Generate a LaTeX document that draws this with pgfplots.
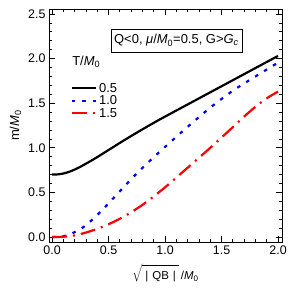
\documentclass[border=0pt]{standalone}
\usepackage{pgfplots}
\pgfplotsset{compat=1.18}
\usepackage{fontspec}
\setmainfont{Liberation Sans}
\begin{document}
\begin{tikzpicture}[font=\fontsize{13}{15}\selectfont]
\begin{axis}[
  scale only axis,
  width=233bp, height=233bp,
  xmin=-0.027, xmax=2.035,
  ymin=-0.056, ymax=2.556,
  xtick={0,0.5,1,1.5,2},
  ytick={0,0.5,1,1.5,2,2.5},
  minor tick num=4,
  tick align=inside,
  major tick length=6bp,
  minor tick length=3bp,
  axis line style={line width=0.8bp},
  every tick/.style={black, line width=0.7bp},
  tick label style={font=\fontsize{12.5}{15}\selectfont},
  /pgf/number format/.cd, fixed, fixed zerofill, precision=1, assume math mode=true,
  /pgfplots/.cd,
  xlabel={$\sqrt{\rule{0pt}{14bp}\mbox{\hspace{3bp}|\hspace{4bp}QB\hspace{4bp}|\hspace{3bp}}}$\,/\textit{M}\textsubscript{0}},
  xlabel style={font=\fontsize{11.5}{14}\selectfont, yshift=-3bp},
  ylabel={m/\textit{M}\textsubscript{0}},
  legend style={at={(axis description cs:0.08,0.70)}, anchor=north west, draw=none, fill=none,
    font=\fontsize{13}{15}\selectfont, row sep=-2pt},
  legend cell align=left,
  legend image code/.code={\draw[#1] (0cm,0cm) -- (0.85cm,0cm);},
]
\addplot[black, line width=2.2bp, smooth] coordinates {
(0,0.70) (0.05,0.702) (0.1,0.712) (0.15,0.73) (0.2,0.756) (0.25,0.787) (0.3,0.822) (0.35,0.858) (0.4,0.896) (0.5,0.975) (0.6,1.055) (0.7,1.132) (0.8,1.207) (0.9,1.28) (1.0,1.35) (1.25,1.52) (1.5,1.69) (1.75,1.86) (2.0,2.03)
};
\addlegendentry{0.5}
\addplot[blue, line width=2.2bp, dash pattern=on 3.5bp off 7bp, smooth] coordinates {
(0,0) (0.1,0.008) (0.15,0.025) (0.2,0.055) (0.25,0.09) (0.3,0.132) (0.4,0.247) (0.5,0.377) (0.6,0.513) (0.7,0.648) (0.8,0.775) (0.9,0.895) (1.0,1.01) (1.2,1.235) (1.4,1.45) (1.6,1.64) (1.8,1.80) (2.0,1.955)
};
\addlegendentry{1.0}
\addplot[red, line width=2.2bp, dash pattern=on 15bp off 6bp on 2bp off 6bp, smooth] coordinates {
(0,0) (0.1,0.003) (0.2,0.018) (0.3,0.05) (0.4,0.092) (0.5,0.143) (0.6,0.205) (0.7,0.278) (0.8,0.36) (0.9,0.455) (1.0,0.557) (1.1,0.667) (1.2,0.777) (1.3,0.888) (1.4,1.0) (1.5,1.115) (1.6,1.232) (1.7,1.35) (1.8,1.46) (1.9,1.555) (2.0,1.63)
};
\addlegendentry{1.5}
\node[anchor=west] at (axis description cs:0.085,0.773) {T/\textit{M}\textsubscript{0}};
\node[draw, line width=0.6bp, fill=white, inner sep=3bp, minimum width=131bp, minimum height=23bp] at (axis description cs:0.547,0.865)
  {Q<0, \textit{μ}/\textit{M}\textsubscript{0}=0.5, G>\textit{G}\textsubscript{\textit{c}}};
\end{axis}
\pgfresetboundingbox
\path[use as bounding box] ([shift={(-49bp,-49bp)}]current axis.south west) rectangle ([shift={(9bp,9bp)}]current axis.north east);
\end{tikzpicture}
\end{document}
